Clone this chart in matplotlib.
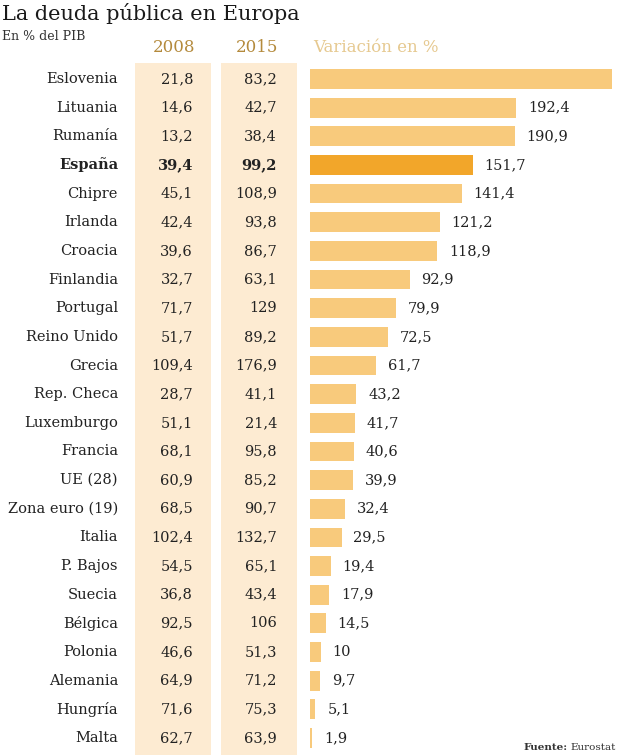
import numpy as np
import matplotlib
matplotlib.use("Agg")
from matplotlib import pyplot as plt

paises = ["Eslovenia", "Lituania", "Rumanía", "España", "Chipre", "Irlanda",
          "Croacia", "Finlandia", "Portugal", "Reino Unido", "Grecia",
          "Rep. Checa", "Luxemburgo", "Francia", "UE (28)", "Zona euro (19)",
          "Italia", "P. Bajos", "Suecia", "Bélgica", "Polonia", "Alemania",
          "Hungría", "Malta"]
deuda_2008 = ["21,8", "14,6", "13,2", "39,4", "45,1", "42,4", "39,6", "32,7",
              "71,7", "51,7", "109,4", "28,7", "51,1", "68,1", "60,9", "68,5",
              "102,4", "54,5", "36,8", "92,5", "46,6", "64,9", "71,6", "62,7"]
deuda_2015 = ["83,2", "42,7", "38,4", "99,2", "108,9", "93,8", "86,7", "63,1",
              "129", "89,2", "176,9", "41,1", "21,4", "95,8", "85,2", "90,7",
              "132,7", "65,1", "43,4", "106", "51,3", "71,2", "75,3", "63,9"]
variacion = [281.7, 192.4, 190.9, 151.7, 141.4, 121.2, 118.9, 92.9, 79.9,
             72.5, 61.7, 43.2, 41.7, 40.6, 39.9, 32.4, 29.5, 19.4, 17.9, 14.5,
             10, 9.7, 5.1, 1.9]
etiquetas = ["", "192,4", "190,9", "151,7", "141,4", "121,2", "118,9", "92,9",
             "79,9", "72,5", "61,7", "43,2", "41,7", "40,6", "39,9", "32,4",
             "29,5", "19,4", "17,9", "14,5", "10", "9,7", "5,1", "1,9"]
destacado = "España"

W, H = 620, 755
plt.rcParams["font.family"] = ["DejaVu Serif"]
fig = plt.figure(figsize=(W / 100, H / 100), dpi=100)

# background axes in pixel units for the column bands
bg = fig.add_axes([0, 0, 1, 1])
bg.set_xlim(0, W)
bg.set_ylim(H, 0)
bg.axis("off")
band = "#fdebd2"
bg.axvspan(135, 211, ymin=0, ymax=1 - 63 / H, color=band, lw=0)
bg.axvspan(221, 297, ymin=0, ymax=1 - 63 / H, color=band, lw=0)

# bar axes
top, pitch = 79, 28.65
ax = fig.add_axes([310 / W, 0, 302 / W, 1])
ax.set_xlim(0, max(variacion))
ax.set_ylim((H - top) / pitch, -top / pitch)
ax.axis("off")

y = np.arange(len(paises))
colores = ["#f2a62a" if p == destacado else "#f8ca7c" for p in paises]
ax.barh(y, variacion, height=0.69, color=colores, lw=0)

tr = matplotlib.transforms.blended_transform_factory(fig.transFigure, ax.transData)
fs = 10.5
for i, p in enumerate(paises):
    w = "bold" if p == destacado else "normal"
    ax.text(118 / W, i, p, transform=tr, ha="right", va="center",
            fontsize=fs, fontweight=w, color="#222222")
    ax.text(193 / W, i, deuda_2008[i], transform=tr, ha="right", va="center",
            fontsize=fs, fontweight=w, color="#222222")
    ax.text(277 / W, i, deuda_2015[i], transform=tr, ha="right", va="center",
            fontsize=fs, fontweight=w, color="#222222")
    if etiquetas[i]:
        ax.text(variacion[i] + 11, i, etiquetas[i], ha="left", va="center",
                fontsize=fs, color="#222222")

fig.text(2 / W, 1 - 14 / H, "La deuda pública en Europa", ha="left",
         va="center", fontsize=15, color="#1a1a1a")
fig.text(2 / W, 1 - 37 / H, "En % del PIB", ha="left", va="center",
         fontsize=9, color="#333333")
fig.text(174 / W, 1 - 47 / H, "2008", ha="center", va="center",
         fontsize=12, color="#b48a3c")
fig.text(257 / W, 1 - 47 / H, "2015", ha="center", va="center",
         fontsize=12, color="#b48a3c")
fig.text(313 / W, 1 - 47 / H, "Variación en %", ha="left", va="center",
         fontsize=12, color="#e6c990")

# source line: bold "Fuente:" followed by regular "Eurostat"
src = fig.text(1 - 4 / W, 1 - 748 / H, "Eurostat", ha="right", va="center",
               fontsize=7.5, color="#333333")
fig.canvas.draw()
x0 = src.get_window_extent().x0 / W
fig.text(x0 - 3 / W, 1 - 748 / H, "Fuente:", ha="right", va="center",
         fontsize=7.5, fontweight="bold", color="#333333")

plt.savefig("out.png", dpi=100)
